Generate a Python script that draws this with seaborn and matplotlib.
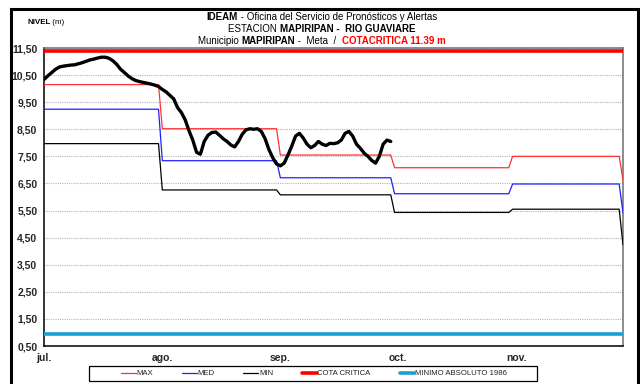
import numpy as np
import pandas as pd
import matplotlib
matplotlib.use("Agg")
import matplotlib.pyplot as plt
import seaborn as sns
from matplotlib.patches import Rectangle
from matplotlib.ticker import FuncFormatter

# --- data -------------------------------------------------------------------
month_labels = ["jul.", "ago.", "sep.", "oct.", "nov."]
tick_days = [0, 31, 62, 93, 124]
block_days = [31, 31, 30, 31, 29]          # daily blocks of the monthly references

max_month = [10.15, 8.52, 7.55, 7.08, 7.50]
med_month = [9.24, 7.34, 6.71, 6.12, 6.48]
min_month = [7.97, 6.26, 6.08, 5.43, 5.55]
max_next, med_next, min_next = 6.63, 5.41, 4.23   # first day of december

cota_critica = 11.39
minimo_1986 = 0.93

# observed daily level (m), from 1 July
nivel = [10.35, 10.48, 10.60, 10.72, 10.80, 10.83, 10.85, 10.87, 10.88, 10.92,
         10.96, 11.01, 11.06, 11.09, 11.13, 11.16, 11.16, 11.12, 11.03, 10.90,
         10.72, 10.60, 10.47, 10.37, 10.30, 10.26, 10.23, 10.20, 10.17, 10.13,
         10.08, 9.97, 9.88, 9.75, 9.62, 9.30, 9.12, 8.85, 8.45, 8.10,
         7.65, 7.58, 8.05, 8.28, 8.38, 8.40, 8.28, 8.15, 8.05, 7.92,
         7.85, 8.05, 8.32, 8.48, 8.52, 8.50, 8.52, 8.42, 8.15, 7.75,
         7.45, 7.22, 7.15, 7.25, 7.55, 7.88, 8.25, 8.35, 8.18, 7.95,
         7.82, 7.90, 8.05, 7.95, 7.90, 7.98, 7.97, 8.00, 8.10, 8.35,
         8.42, 8.25, 7.95, 7.80, 7.62, 7.50, 7.35, 7.25, 7.50, 7.95,
         8.10, 8.05]

# --- tables -----------------------------------------------------------------
days = np.arange(sum(block_days) + 1)
ref = pd.DataFrame({
    "dia": days,
    "MAX": np.append(np.repeat(max_month, block_days), max_next),
    "MED": np.append(np.repeat(med_month, block_days), med_next),
    "MIN": np.append(np.repeat(min_month, block_days), min_next),
    "COTA CRITICA": cota_critica,
    "MINIMO ABSOLUTO 1986": minimo_1986,
})
obs = pd.DataFrame({"dia": np.arange(len(nivel)), "nivel": nivel})

# --- figure -----------------------------------------------------------------
sns.set_style("white")
plt.rcParams["font.family"] = ["Liberation Sans", "DejaVu Sans"]

W, H = 640, 384
fig = plt.figure(figsize=(W / 100, H / 100), dpi=100)
fig.patch.set_facecolor("white")
ax = fig.add_axes([44.3 / W, (H - 346) / H, (623 - 44.3) / W, (346 - 48) / H])

styles = [
    ("MAX", "#ff3030", 0.9, 3),
    ("MED", "#2020ff", 0.9, 3),
    ("MIN", "#000000", 0.9, 3),
    ("COTA CRITICA", "#ff0000", 2.6, 4),
    ("MINIMO ABSOLUTO 1986", "#1a9fd4", 2.6, 4),
]
for name, color, lw, z in styles:
    sns.lineplot(data=ref, x="dia", y=name, color=color, lw=lw, label=name,
                 ax=ax, zorder=z)

sns.lineplot(data=obs, x="dia", y="nivel", color="black", lw=2.4, ax=ax,
             zorder=6, legend=False)

# --- axes -------------------------------------------------------------------
ax.set_xlim(0, days[-1])
ax.set_ylim(0.5, 11.5)
ax.set_yticks(np.arange(0.5, 11.51, 1.0))
ax.yaxis.set_major_formatter(FuncFormatter(lambda v, p: f"{v:.2f}".replace(".", ",")))
ax.set_xticks(tick_days)
ax.set_xticklabels(month_labels)
ax.set_xlabel("")
ax.set_ylabel("")

ax.yaxis.grid(True, color="#b4b4b4", linestyle=(0, (1, 1)), lw=0.8)
ax.xaxis.grid(False)
ax.set_axisbelow(True)

for side in ("left", "bottom"):
    ax.spines[side].set_color("black")
    ax.spines[side].set_linewidth(1.1)
for side in ("top", "right"):
    ax.spines[side].set_visible(True)
    ax.spines[side].set_color("#6e6e6e")
    ax.spines[side].set_linewidth(1.1)

ax.tick_params(axis="both", direction="out", length=3, width=0.8, color="black",
               labelsize=7.5, pad=2)
for lab in ax.get_xticklabels() + ax.get_yticklabels():
    lab.set_fontweight("bold")

# --- legend -----------------------------------------------------------------
handles, labels = ax.get_legend_handles_labels()
order = [labels.index(n) for n, *_ in styles]
leg = ax.legend([handles[i] for i in order], [labels[i] for i in order],
                loc="center", bbox_to_anchor=(314 / W, 1 - 373.5 / H),
                bbox_transform=fig.transFigure, ncol=5, frameon=False,
                fontsize=5.6, handlelength=1.9, handletextpad=0.1,
                columnspacing=3.7, borderpad=0.2)
for t in leg.get_texts():
    t.set_color("#222222")
fig.patches.append(Rectangle((89 / W, 1 - 381 / H), (537 - 89) / W, 15 / H,
                             transform=fig.transFigure, fill=False,
                             edgecolor="black", lw=0.9))

# outer frame of the chart
fig.patches.append(Rectangle((11 / W, -0.2), (638 - 11) / W, 1.2 - 9 / H,
                             transform=fig.transFigure, fill=False,
                             edgecolor="black", lw=2.2))

# --- titles -----------------------------------------------------------------
renderer = fig.canvas.get_renderer()


def rich_line(parts, y_px, size, x_px=None, center=True):
    texts = []
    for s, weight, color in parts:
        texts.append(fig.text(0, 1 - y_px / H, s, fontsize=size,
                              fontweight=weight, color=color,
                              ha="left", va="center"))
    widths = [t.get_window_extent(renderer).width for t in texts]
    x = x_px - sum(widths) / 2 if center else x_px
    for t, w in zip(texts, widths):
        t.set_x(x / W)
        x += w


rich_line([("IDEAM", "bold", "black"),
           (" - Oficina del Servicio de Pronósticos y Alertas", "normal", "black")],
          16.5, 7.0, 322)
rich_line([("ESTACION ", "normal", "black"),
           ("MAPIRIPAN -  RIO GUAVIARE", "bold", "black")],
          28.5, 7.0, 322)
rich_line([("Municipio ", "normal", "black"),
           ("MAPIRIPAN", "bold", "black"),
           (" -  Meta  /  ", "normal", "black"),
           ("COTACRITICA 11.39 m", "bold", "#ff0000")],
          40.5, 7.0, 322)
rich_line([("NIVEL", "bold", "black"), (" (m)", "normal", "black")],
          23, 5.8, 27, center=False)

fig.savefig("out.png", dpi=100)
